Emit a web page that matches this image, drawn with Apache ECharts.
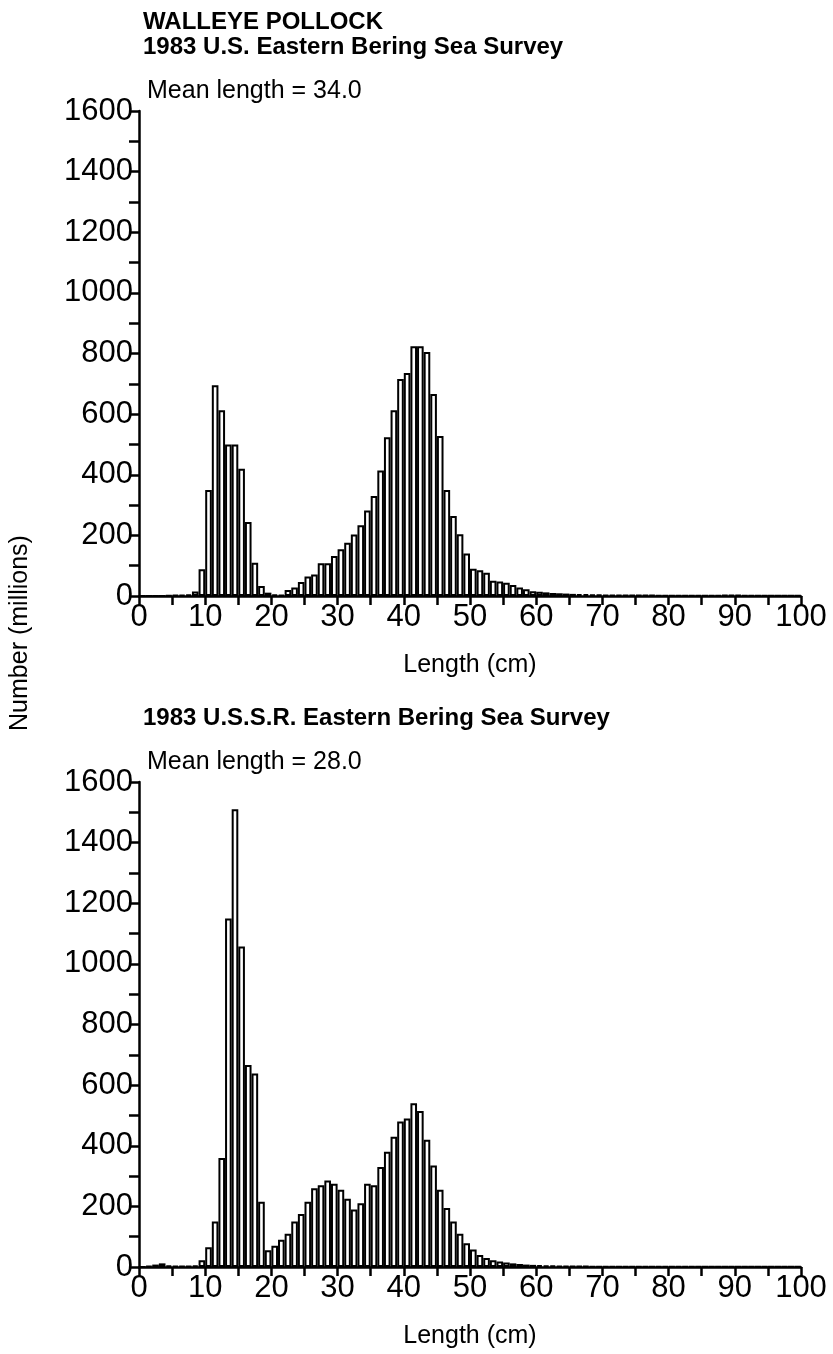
<!DOCTYPE html>
<html>
<head>
<meta charset="utf-8">
<script src="https://cdn.jsdelivr.net/npm/echarts@6/dist/echarts.min.js"></script>
<style>
  html, body { margin: 0; padding: 0; background: #fff; }
  #chart { width: 833px; height: 1354px; }
</style>
</head>
<body>
<div id="chart"></div>
<script>
// length bins (cm), bar i covers [i, i+1]
const lengthBins = Array.from({ length: 100 }, (_, i) => i)

// 1983 U.S. survey, millions of fish per 1-cm bin
const usCounts = [
  0, 0, 0, 0, 2, 3, 4, 5, 15, 88,
  350, 695, 613, 500, 500, 420, 244, 110, 33, 11,
  5, 4, 20, 28, 46, 64, 71, 108, 108, 132,
  154, 176, 203, 233, 282, 330, 414, 524, 613, 716,
  736, 824, 824, 805, 666, 528, 350, 264, 204, 140,
  90, 85, 77, 50, 48, 44, 36, 28, 22, 16,
  14, 12, 10, 9, 8, 7, 6, 6, 5, 5,
  4, 4, 4, 3, 3, 3, 3, 3, 2, 2,
  2, 2, 2, 2, 2, 2, 2, 2, 3, 3,
  3, 2, 2, 2, 1, 1, 1, 1, 1, 1
]

// 1983 U.S.S.R. survey
const ussrCounts = [
  0, 3, 8, 12, 5, 4, 3, 3, 5, 22,
  65, 150, 360, 1150, 1510, 1057, 666, 638, 215, 55,
  70, 90, 110, 150, 175, 215, 260, 270, 285, 275,
  255, 225, 190, 210, 275, 270, 330, 380, 430, 480,
  490, 540, 515, 420, 335, 255, 195, 150, 110, 78,
  58, 40, 30, 22, 18, 15, 12, 10, 8, 7,
  6, 5, 5, 4, 4, 3, 3, 3, 2, 2,
  2, 2, 2, 2, 2, 2, 2, 2, 2, 2,
  2, 2, 2, 2, 1, 1, 1, 1, 1, 1,
  1, 1, 1, 1, 1, 1, 1, 1, 1, 1
]

const chartTitle = 'WALLEYE POLLOCK'
const panelTitles = ['1983 U.S. Eastern Bering Sea Survey', '1983 U.S.S.R. Eastern Bering Sea Survey']
const meanLabels = ['Mean length = 34.0', 'Mean length = 28.0']
const xName = 'Length (cm)'
const yName = 'Number (millions)'

const font = '"Liberation Sans", Arial, sans-serif'
const gridLeft = 139
const gridRight = 32
const gridHeight = 485
const gridTops = [111, 782]
const barW = (833 - gridLeft - gridRight) / 100

let chart = echarts.init(document.getElementById('chart'), null, { renderer: 'canvas' })

let grids = gridTops.map(top => ({
    left: gridLeft,
    right: gridRight,
    top: top,
    height: gridHeight,
    containLabel: false,
    outerBoundsMode: 'none',
}))

let xAxis = gridTops.map((top, i) => ({
    type: 'value',
    gridIndex: i,
    min: 0,
    max: 100,
    interval: 5,
    name: xName,
    nameLocation: 'middle',
    nameGap: 57,
    nameTextStyle: { color: '#000', fontFamily: font, fontSize: 25 },
    axisLine: { lineStyle: { color: '#000', width: 2.5 } },
    axisTick: { inside: false, length: 9, lineStyle: { color: '#000', width: 2.5 } },
    axisLabel: {
        color: '#000',
        fontFamily: font,
        fontSize: 31,
        margin: 6,
        formatter: (v) => (v % 10 === 0 ? String(v) : '')
    },
    splitLine: { show: false },
}))

let yAxis = gridTops.map((top, i) => ({
    type: 'value',
    gridIndex: i,
    min: 0,
    max: 1600,
    interval: 100,
    axisLine: { show: true, lineStyle: { color: '#000', width: 2.5 } },
    axisTick: { show: true, inside: false, length: 10, lineStyle: { color: '#000', width: 2.5 } },
    axisLabel: {
        color: '#000',
        fontFamily: font,
        fontSize: 31,
        margin: 6,
        formatter: (v) => (v % 200 === 0 ? String(v) : '')
    },
    splitLine: { show: false },
}))

let makeSeries = (counts, idx) => ({
    type: 'bar',
    xAxisIndex: idx,
    yAxisIndex: idx,
    data: lengthBins.map((x, k) => [x + 0.5, counts[k]]),
    barWidth: barW,
    itemStyle: { color: '#fff', borderColor: '#000', borderWidth: 2 },
    silent: true,
    animation: false,
})

let textStyle = (size, bold) => ({
    fill: '#000',
    font: (bold ? 'bold ' : '') + size + 'px ' + font,
})

let graphics = [
    { type: 'text', left: 143, top: 10, style: Object.assign({ text: chartTitle }, textStyle(24, true)) },
]
gridTops.forEach((top, i) => {
    graphics.push({ type: 'text', left: 143, top: top - 76, style: Object.assign({ text: panelTitles[i] }, textStyle(24, true)) })
    graphics.push({ type: 'text', left: 147, top: top - 32, style: Object.assign({ text: meanLabels[i] }, textStyle(25, false)) })
})
graphics.push({
    type: 'text',
    x: 8,
    y: 633,
    rotation: Math.PI / 2,
    style: Object.assign({ text: yName, align: 'center', verticalAlign: 'top' }, textStyle(25, false))
})

chart.setOption({
    backgroundColor: '#fff',
    animation: false,
    grid: grids,
    xAxis: xAxis,
    yAxis: yAxis,
    series: [makeSeries(usCounts, 0), makeSeries(ussrCounts, 1)],
    graphic: graphics,
})
</script>
</body>
</html>
